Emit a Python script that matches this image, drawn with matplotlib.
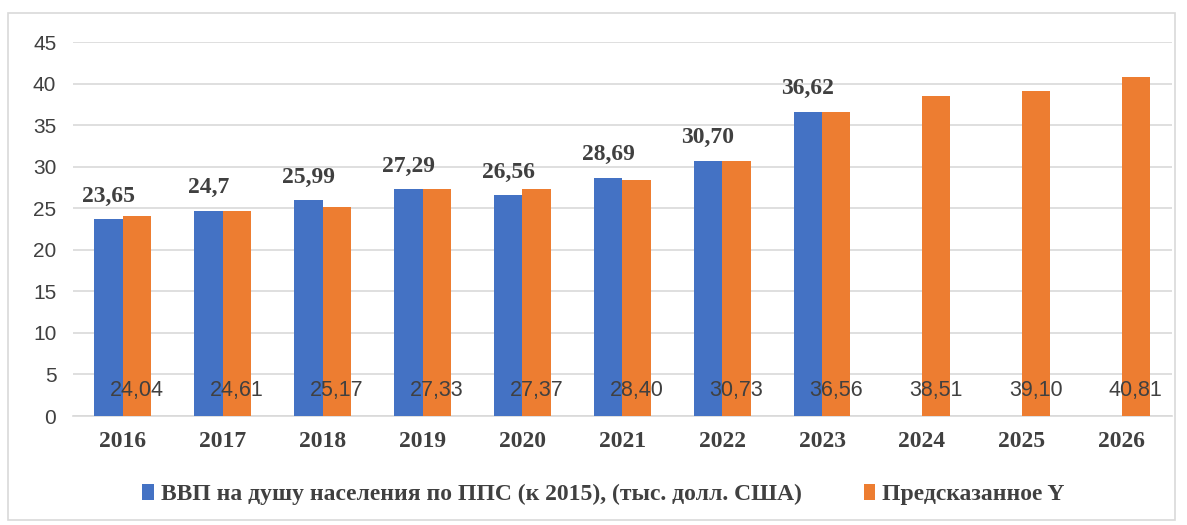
import matplotlib.pyplot as plt
from matplotlib.patches import Rectangle
import numpy as np

years = ['2016', '2017', '2018', '2019', '2020', '2021', '2022', '2023', '2024', '2025', '2026']
gdp = [23.65, 24.7, 25.99, 27.29, 26.56, 28.69, 30.70, 36.62]
gdp_labels = ['23,65', '24,7', '25,99', '27,29', '26,56', '28,69', '30,70', '36,62']
pred = [24.04, 24.61, 25.17, 27.33, 27.37, 28.40, 30.73, 36.56, 38.51, 39.10, 40.81]
pred_labels = ['24,04', '24,61', '25,17', '27,33', '27,37', '28,40', '30,73', '36,56', '38,51', '39,10', '40,81']

blue = '#4472C4'
orange = '#ED7D31'
txt = '#404040'
serif = 'Liberation Serif'
sans = 'Liberation Sans'

fig = plt.figure(figsize=(11.87, 5.25), dpi=100)
ax = fig.add_axes([0.0615, 0.2076, 0.9255, 0.7124])

x = np.arange(len(years))
w = 0.285
ax.bar(x[:len(gdp)] - w / 2, gdp, w, color=blue, label='ВВП на душу населения по ППС (к 2015), (тыс. долл. США)', zorder=3)
ax.bar(x + w / 2, pred, w, color=orange, label='Предсказанное Y', zorder=3)

for i, v in enumerate(gdp):
    ax.annotate(gdp_labels[i], (x[i] - w / 2, v), xytext=(0, 9), textcoords='offset points',
                ha='center', va='bottom', fontsize=17, fontweight='bold', family=serif, color=txt)
for i, v in enumerate(pred):
    ax.text(x[i] + w / 2, 3.1, pred_labels[i], ha='center', va='center', fontsize=15.5,
            family=sans, color=txt, zorder=4)

ax.set_xlim(-0.5, len(years) - 0.5)
ax.set_ylim(0, 45)
ax.set_yticks(range(0, 50, 5))
ax.yaxis.grid(True, color='#D9D9D9', linewidth=1.2, zorder=0)
for s in ['top', 'right', 'left']:
    ax.spines[s].set_visible(False)
ax.spines['bottom'].set_color('#D9D9D9')
ax.spines['bottom'].set_linewidth(1.2)
ax.tick_params(length=0)
ax.set_xticks(x)
ax.set_xticklabels(years, fontsize=17, fontweight='bold', family=serif, color=txt)
for lbl in ax.get_yticklabels():
    lbl.set_fontsize(15)
    lbl.set_family(sans)
    lbl.set_color(txt)
ax.tick_params(axis='x', pad=11)
ax.tick_params(axis='y', pad=12)

leg = ax.legend(loc='center', bbox_to_anchor=(0.483, -0.21), ncol=2, frameon=False,
                prop={'family': serif, 'weight': 'bold', 'size': 17},
                handlelength=0.5, handleheight=0.65, handletextpad=0.3, columnspacing=2.6)
for t in leg.get_texts():
    t.set_color(txt)

fig.patches.append(Rectangle((8 / 1187, 5 / 525), 1167 / 1187, 507 / 525, transform=fig.transFigure,
                             fill=False, edgecolor='#D9D9D9', linewidth=1.2))

fig.savefig('out.png', dpi=100)
